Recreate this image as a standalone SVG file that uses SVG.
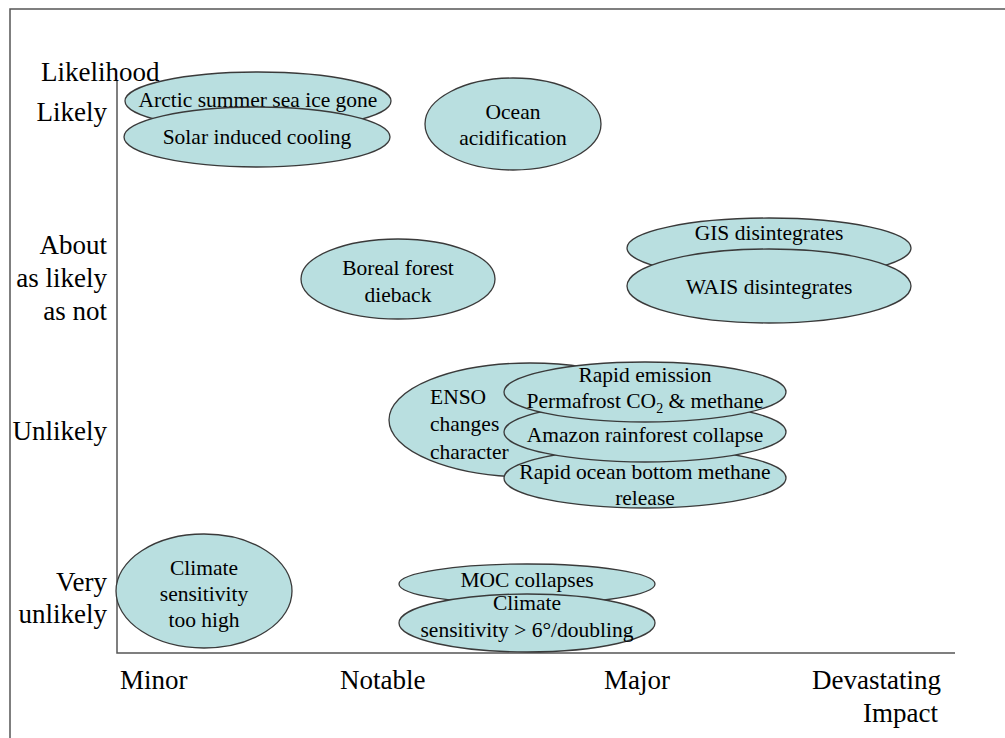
<svg xmlns="http://www.w3.org/2000/svg" width="1005" height="738" viewBox="0 0 1005 738">
<rect x="0" y="0" width="1005" height="738" fill="#ffffff"/>
<path d="M10 760 V9 H1020" stroke="#555555" stroke-width="1.5" fill="none"/>
<g id="axes">
  <path d="M117 80 V653 H955" stroke="#555555" stroke-width="1.5" fill="none"/>
</g>
<g id="axis-labels" fill="#000000">
  <text font-family="Liberation Serif" font-size="27" x="41" y="81">Likelihood</text>
  <text font-family="Liberation Serif" font-size="27" text-anchor="end" x="107" y="121">Likely</text>
  <text font-family="Liberation Serif" font-size="27" text-anchor="end" x="107" y="254">About</text>
  <text font-family="Liberation Serif" font-size="27" text-anchor="end" x="107" y="287">as likely</text>
  <text font-family="Liberation Serif" font-size="27" text-anchor="end" x="107" y="320">as not</text>
  <text font-family="Liberation Serif" font-size="27" text-anchor="end" x="107" y="440">Unlikely</text>
  <text font-family="Liberation Serif" font-size="27" text-anchor="end" x="107" y="591">Very</text>
  <text font-family="Liberation Serif" font-size="27" text-anchor="end" x="107" y="623">unlikely</text>
  <text font-family="Liberation Serif" font-size="27" x="120" y="689">Minor</text>
  <text font-family="Liberation Serif" font-size="27" x="340" y="689">Notable</text>
  <text font-family="Liberation Serif" font-size="27" x="604" y="689">Major</text>
  <text font-family="Liberation Serif" font-size="27" text-anchor="end" x="941" y="689">Devastating</text>
  <text font-family="Liberation Serif" font-size="27" text-anchor="end" x="938" y="722">Impact</text>
</g>
<g id="connectors"></g>
<g id="nodes" fill="#b9dfe0" stroke="#3a3a3a" stroke-width="1.3">
<g id="arctic">
  <ellipse cx="258" cy="101" rx="133" ry="29"/>
  <text font-family="Liberation Serif" font-size="21.5" text-anchor="middle" fill="#000" stroke="none" x="258" y="107">Arctic summer sea ice gone</text>
</g>
<g id="solar">
  <ellipse cx="257" cy="137" rx="133" ry="30"/>
  <text font-family="Liberation Serif" font-size="21.5" text-anchor="middle" fill="#000" stroke="none" x="257" y="144">Solar induced cooling</text>
</g>
<g id="ocean">
  <ellipse cx="513" cy="124" rx="88" ry="46"/>
  <text font-family="Liberation Serif" font-size="21.5" text-anchor="middle" fill="#000" stroke="none" x="513" y="119">Ocean</text>
  <text font-family="Liberation Serif" font-size="21.5" text-anchor="middle" fill="#000" stroke="none" x="513" y="145">acidification</text>
</g>
<g id="gis">
  <ellipse cx="769" cy="248" rx="142" ry="30"/>
  <text font-family="Liberation Serif" font-size="21.5" text-anchor="middle" fill="#000" stroke="none" x="769" y="240">GIS disintegrates</text>
</g>
<g id="wais">
  <ellipse cx="769" cy="286" rx="142" ry="37"/>
  <text font-family="Liberation Serif" font-size="21.5" text-anchor="middle" fill="#000" stroke="none" x="769" y="294">WAIS disintegrates</text>
</g>
<g id="boreal">
  <ellipse cx="398" cy="279" rx="97" ry="40"/>
  <text font-family="Liberation Serif" font-size="21.5" text-anchor="middle" fill="#000" stroke="none" x="398" y="275">Boreal forest</text>
  <text font-family="Liberation Serif" font-size="21.5" text-anchor="middle" fill="#000" stroke="none" x="398" y="302">dieback</text>
</g>
<g id="enso">
  <ellipse cx="530" cy="420" rx="141" ry="57"/>
  <text font-family="Liberation Serif" font-size="21.5" fill="#000" stroke="none" x="430" y="404">ENSO</text>
  <text font-family="Liberation Serif" font-size="21.5" fill="#000" stroke="none" x="430" y="431">changes</text>
  <text font-family="Liberation Serif" font-size="21.5" fill="#000" stroke="none" x="430" y="459">character</text>
</g>
<g id="oceanmethane">
  <ellipse cx="645" cy="478" rx="141" ry="30"/>
  <text font-family="Liberation Serif" font-size="21.5" text-anchor="middle" fill="#000" stroke="none" x="645" y="479">Rapid ocean bottom methane</text>
  <text font-family="Liberation Serif" font-size="21.5" text-anchor="middle" fill="#000" stroke="none" x="645" y="505">release</text>
</g>
<g id="amazon">
  <ellipse cx="645" cy="432" rx="141" ry="30"/>
  <text font-family="Liberation Serif" font-size="21.5" text-anchor="middle" fill="#000" stroke="none" x="645" y="442">Amazon rainforest collapse</text>
</g>
<g id="permafrost">
  <ellipse cx="645" cy="392" rx="141" ry="30"/>
  <text font-family="Liberation Serif" font-size="21.5" text-anchor="middle" fill="#000" stroke="none" x="645" y="382">Rapid emission</text>
  <text font-family="Liberation Serif" font-size="21.5" text-anchor="middle" fill="#000" stroke="none" x="645" y="408">Permafrost CO<tspan font-size="14" dy="5">2</tspan><tspan dy="-5"> &amp; methane</tspan></text>
</g>
<g id="moc">
  <ellipse cx="527" cy="584" rx="128" ry="20"/>
  <text font-family="Liberation Serif" font-size="21.5" text-anchor="middle" fill="#000" stroke="none" x="527" y="587">MOC collapses</text>
</g>
<g id="sens6">
  <ellipse cx="527" cy="623" rx="128" ry="29"/>
  <text font-family="Liberation Serif" font-size="21.5" text-anchor="middle" fill="#000" stroke="none" x="527" y="610">Climate</text>
  <text font-family="Liberation Serif" font-size="21.5" text-anchor="middle" fill="#000" stroke="none" x="527" y="637">sensitivity &gt; 6°/doubling</text>
</g>
<g id="senshigh">
  <ellipse cx="204" cy="591" rx="88" ry="57"/>
  <text font-family="Liberation Serif" font-size="21.5" text-anchor="middle" fill="#000" stroke="none" x="204" y="575">Climate</text>
  <text font-family="Liberation Serif" font-size="21.5" text-anchor="middle" fill="#000" stroke="none" x="204" y="601">sensitivity</text>
  <text font-family="Liberation Serif" font-size="21.5" text-anchor="middle" fill="#000" stroke="none" x="204" y="627">too high</text>
</g>
</g>
</svg>
